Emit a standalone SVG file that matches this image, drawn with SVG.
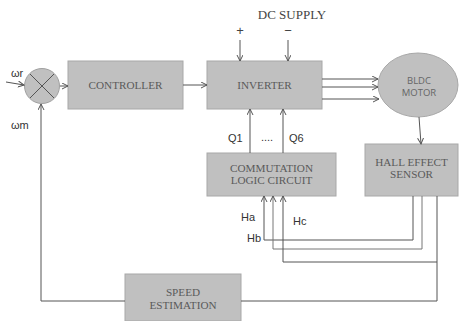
<svg xmlns="http://www.w3.org/2000/svg" width="459" height="321" viewBox="0 0 459 321">
<defs>
<style>
.box{fill:#c0c0c0;stroke:#a8a8a8;stroke-width:1}
.bt{font-family:"Liberation Serif",serif;font-size:11.2px;fill:#5a5a5a;text-anchor:middle}
.lbl{font-family:"Liberation Sans",sans-serif;font-size:11px;fill:#333}
.ln{fill:none;stroke:#555;stroke-width:1}
.lg{fill:none;stroke:#777;stroke-width:1}
</style>
<marker id="ah" markerWidth="8" markerHeight="8" refX="6" refY="3" orient="auto" markerUnits="userSpaceOnUse">
<path d="M0,0 L6,3 L0,6" fill="none" stroke="#555" stroke-width="1"/>
</marker>
</defs>
<rect width="459" height="321" fill="#fff"/>
<g id="sum">
<circle cx="42" cy="86" r="17.5" fill="#c0c0c0" stroke="#a0a0a0"/>
<path d="M30,74 L54,98 M54,74 L30,98" stroke="#555" stroke-width="1"/>
</g>
<g id="controller">
<rect class="box" x="68" y="61" width="115" height="48"/>
<text class="bt" x="125.5" y="89">CONTROLLER</text>
</g>
<g id="inverter">
<rect class="box" x="207" y="61" width="115" height="48"/>
<text class="bt" x="264.5" y="89">INVERTER</text>
</g>
<g id="motor">
<ellipse cx="418" cy="85" rx="40" ry="32" fill="#c0c0c0" stroke="#a8a8a8"/>
<text x="419" y="84" font-family="'Open Sans','Liberation Sans',sans-serif" font-size="9.5" fill="#666" text-anchor="middle">BLDC</text>
<text x="419" y="96" font-family="'Open Sans','Liberation Sans',sans-serif" font-size="9.5" fill="#666" text-anchor="middle">MOTOR</text>
</g>
<g id="commutation">
<rect class="box" x="207" y="153" width="129" height="43"/>
<text class="bt" x="271.5" y="172">COMMUTATION</text>
<text class="bt" x="271.5" y="184">LOGIC CIRCUIT</text>
</g>
<g id="hall">
<rect class="box" x="365" y="144" width="93" height="52"/>
<text class="bt" x="411.5" y="166">HALL EFFECT</text>
<text class="bt" x="411.5" y="178">SENSOR</text>
</g>
<g id="speed">
<rect class="box" x="125" y="274" width="116" height="47"/>
<text class="bt" x="183" y="296">SPEED</text>
<text class="bt" x="183" y="309">ESTIMATION</text>
</g>
<g id="labels">
<text x="292" y="19" font-family="'Liberation Serif',serif" font-size="13" fill="#444" text-anchor="middle">DC SUPPLY</text>
<text x="240" y="35" font-family="'Liberation Sans',sans-serif" font-size="13" fill="#444" text-anchor="middle">+</text>
<text x="288" y="35" font-family="'Liberation Sans',sans-serif" font-size="13" fill="#444" text-anchor="middle">−</text>
<text class="lbl" x="11" y="77" font-size="12">ωr</text>
<text class="lbl" x="11" y="129" font-size="14">ωm</text>
<text class="lbl" x="228" y="142">Q1</text>
<text class="lbl" x="267" y="141" text-anchor="middle" font-size="8">....</text>
<text class="lbl" x="289" y="142">Q6</text>
<text class="lbl" x="241" y="221">Ha</text>
<text class="lbl" x="293" y="225">Hc</text>
<text class="lbl" x="247" y="242">Hb</text>
</g>
<g id="connectors">
<path class="ln" d="M6,82 L24,85" marker-end="url(#ah)"/>
<path class="ln" d="M60,86 L68,86" marker-end="url(#ah)"/>
<path class="ln" d="M183,85 L207,85" marker-end="url(#ah)"/>
<path class="ln" d="M240,40 L240,61" marker-end="url(#ah)"/>
<path class="ln" d="M288,40 L288,61" marker-end="url(#ah)"/>
<path class="ln" d="M322,79 L378,79" marker-end="url(#ah)"/>
<path class="ln" d="M322,87 L378,87" marker-end="url(#ah)"/>
<path class="ln" d="M322,99 L379,99" marker-end="url(#ah)"/>
<path class="ln" d="M250,153 L250,109" marker-end="url(#ah)"/>
<path class="ln" d="M283,153 L283,109" marker-end="url(#ah)"/>
<path class="ln" d="M419,117 L421,144" marker-end="url(#ah)"/>
<path class="ln" d="M413,196 L413,240 L264,240 L264,196" marker-end="url(#ah)"/>
<path class="lg" d="M422,196 L422,249 L273,249 L273,196" marker-end="url(#ah)"/>
<path class="ln" d="M437,196 L437,301 L241,301"/>
<path class="ln" d="M437,262 L283,262 L283,196" marker-end="url(#ah)"/>
<path class="ln" d="M125,301 L41,301 L41,104" marker-end="url(#ah)"/>
</g>
</svg>
